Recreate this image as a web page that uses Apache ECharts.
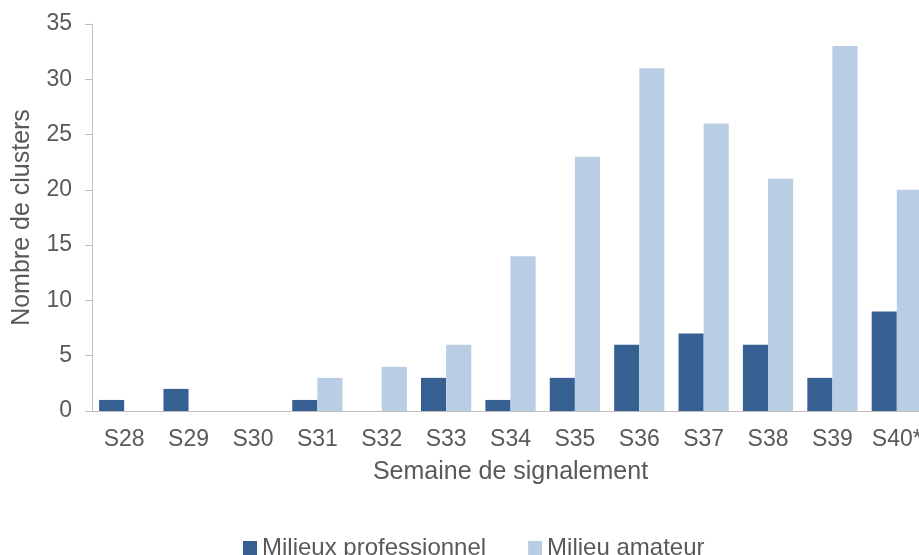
<!DOCTYPE html>
<html>
<head>
<meta charset="utf-8">
<script src="https://cdn.jsdelivr.net/npm/echarts@6/dist/echarts.min.js"></script>
<style>
html,body{margin:0;padding:0;background:#fff;overflow:hidden;width:919px;height:555px;}
#c{width:929px;height:555px;}
</style>
</head>
<body>
<div id="c"></div>
<script>
var categories = ['S28','S29','S30','S31','S32','S33','S34','S35','S36','S37','S38','S39','S40*'];
var professionnel = [1,2,0,1,0,3,1,3,6,7,6,3,9];
var amateur = [0,0,0,3,4,6,14,23,31,26,21,33,20];
var yTicks = {min:0, max:35, interval:5};
var seriesNames = ['Milieux professionnel','Milieu amateur'];

var txt = '#595959';
var font = 'Liberation Sans, Arial, sans-serif';
var chart = echarts.init(document.getElementById('c'), null, {renderer:'canvas'});
chart.setOption({
  animation:false,
  backgroundColor:'#fff',
  textStyle:{fontFamily:font},
  grid:{left:92, top:24, height:387, right:0, containLabel:false, outerBoundsMode:'none'},
  legend:{
    data:seriesNames,
    left:238, top:531,
    itemWidth:14, itemHeight:14, itemGap:42,
    icon:'rect',
    textStyle:{color:txt, fontSize:24, fontFamily:font}
  },
  xAxis:{
    type:'category',
    data:categories,
    axisLine:{lineStyle:{color:'#bfbfbf', width:1}},
    axisTick:{show:false},
    axisLabel:{color:txt, fontSize:23, margin:17, fontFamily:font, interval:0},
    name:'Semaine de signalement',
    nameLocation:'middle',
    nameGap:49,
    nameTextStyle:{color:txt, fontSize:25, fontFamily:font}
  },
  yAxis:{
    type:'value',
    min:yTicks.min, max:yTicks.max, interval:yTicks.interval,
    axisLine:{show:true, lineStyle:{color:'#bfbfbf', width:1}},
    axisTick:{show:true, length:7, lineStyle:{color:'#bfbfbf'}},
    splitLine:{show:false},
    axisLabel:{color:txt, fontSize:23, margin:20, fontFamily:font},
    name:'Nombre de clusters',
    nameLocation:'middle',
    nameGap:57,
    nameTextStyle:{color:txt, fontSize:25, fontFamily:font}
  },
  series:[
    {name:seriesNames[0], type:'bar', data:professionnel, barGap:'0%', barCategoryGap:'22%',
     itemStyle:{color:'#376092'}},
    {name:seriesNames[1], type:'bar', data:amateur, barGap:'0%', barCategoryGap:'22%',
     itemStyle:{color:'#B9CDE5'}}
  ]
});
</script>
</body>
</html>
